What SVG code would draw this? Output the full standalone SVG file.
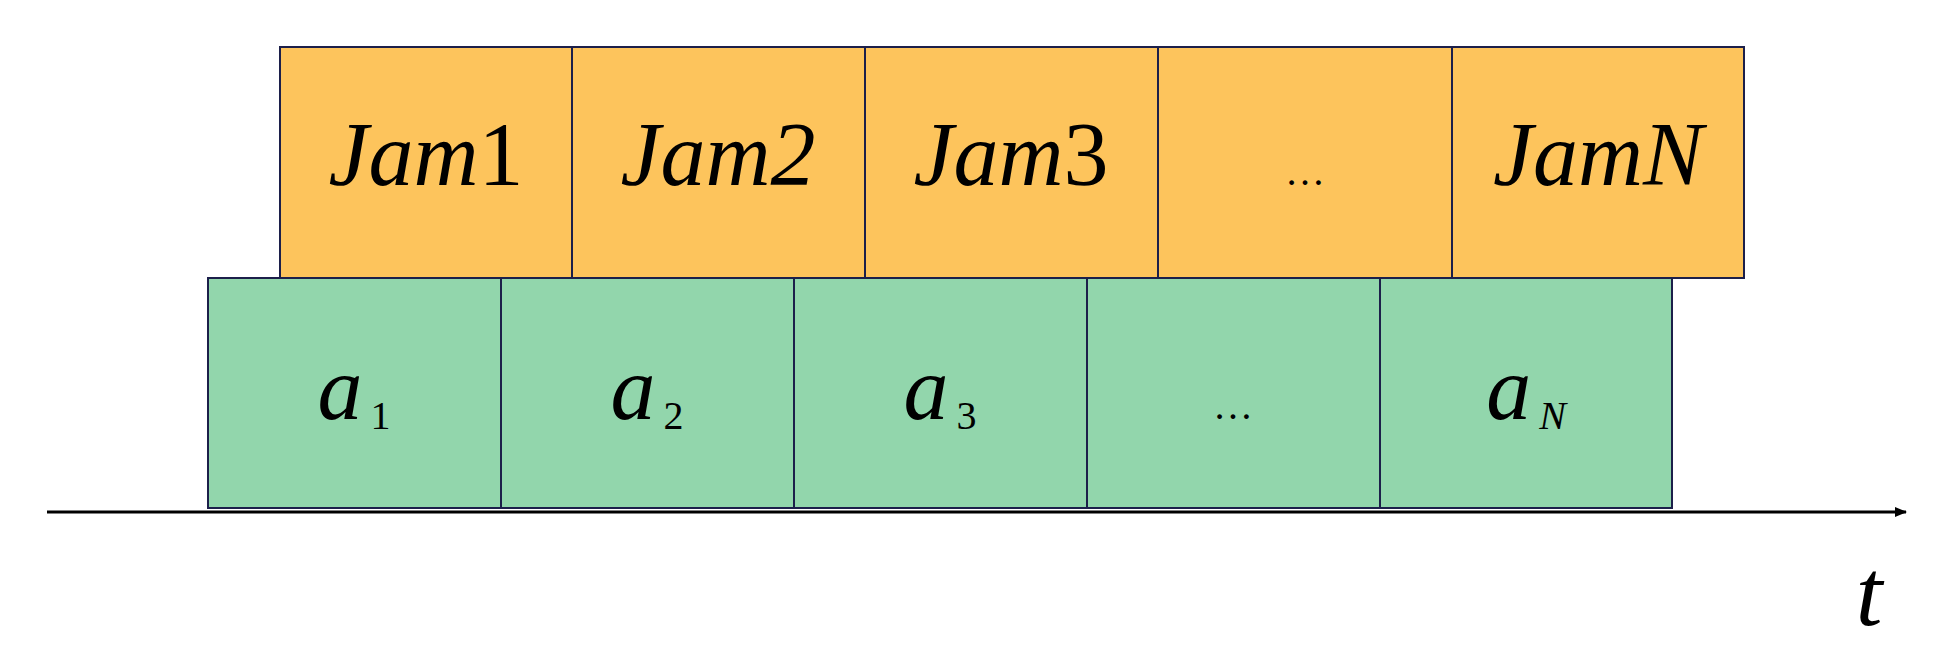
<svg xmlns="http://www.w3.org/2000/svg" width="1934" height="664" viewBox="0 0 1934 664">
<style>
.o{fill:#FDC45C;stroke:#1C1F4A;stroke-width:2}
.g{fill:#92D6AC;stroke:#1C1F4A;stroke-width:2}
.t{font-family:"Liberation Serif",serif;font-size:90px;text-anchor:middle;fill:#000}
.i{font-style:italic}
.s{font-size:40px}
</style>
<defs><marker id="ar" markerWidth="12" markerHeight="10" refX="11" refY="5" orient="auto" markerUnits="userSpaceOnUse"><path d="M0,0L12,5L0,10Z" fill="#000"/></marker></defs>
<rect width="1934" height="664" fill="#fff"/>
<g id="jam1"><rect class="o" x="280" y="47" width="292" height="231"/><text class="t" x="426" y="185"><tspan class="i">Jam</tspan>1</text></g>
<g id="jam2"><rect class="o" x="572" y="47" width="293" height="231"/><text class="t i" x="718" y="185">Jam2</text></g>
<g id="jam3"><rect class="o" x="865" y="47" width="293" height="231"/><text class="t" x="1011" y="185"><tspan class="i">Jam</tspan>3</text></g>
<g id="jamdots"><rect class="o" x="1158" y="47" width="294" height="231"/><text class="t" x="1305" y="185" style="font-size:40px">…</text></g>
<g id="jamN"><rect class="o" x="1452" y="47" width="292" height="231"/><text class="t i" x="1598" y="185">JamN</text></g>
<g id="a1"><rect class="g" x="208" y="278" width="293" height="230"/><text class="t" x="354" y="419"><tspan class="i">a</tspan><tspan class="s" dx="8" dy="10">1</tspan></text></g>
<g id="a2"><rect class="g" x="501" y="278" width="293" height="230"/><text class="t" x="647" y="419"><tspan class="i">a</tspan><tspan class="s" dx="8" dy="10">2</tspan></text></g>
<g id="a3"><rect class="g" x="794" y="278" width="293" height="230"/><text class="t" x="940" y="419"><tspan class="i">a</tspan><tspan class="s" dx="8" dy="10">3</tspan></text></g>
<g id="adots"><rect class="g" x="1087" y="278" width="293" height="230"/><text class="t" x="1233" y="419" style="font-size:40px">…</text></g>
<g id="aN"><rect class="g" x="1380" y="278" width="292" height="230"/><text class="t" x="1526" y="419"><tspan class="i">a</tspan><tspan class="s i" dx="8" dy="10">N</tspan></text></g>
<g id="connectors"><line x1="47" y1="512" x2="1906" y2="512" stroke="#000" stroke-width="3" marker-end="url(#ar)"/></g>
<text class="t i" x="1869" y="625" style="font-size:96px">t</text>
</svg>
